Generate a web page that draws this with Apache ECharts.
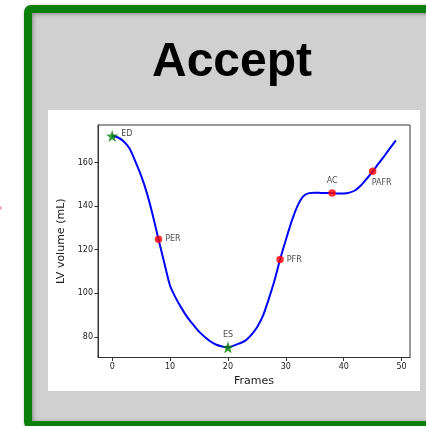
<!DOCTYPE html>
<html>
<head>
<meta charset="utf-8">
<script src="https://cdn.jsdelivr.net/npm/echarts@6/dist/echarts.min.js"></script>
<style>
html,body{margin:0;padding:0;background:#fff;}
#c{width:426px;height:426px;}
</style>
</head>
<body>
<div id="c"></div>
<script>
// ---- data ----
var frames = [];
for (var i = 0; i < 50; i++) frames.push(i);
var volumes = [172.2, 171.5, 169.7, 166.5, 160.6, 154.0, 146.0, 136.0, 124.8, 114.0,
               103.5, 97.8, 93.1, 89.0, 85.6, 82.4, 80.0, 77.9, 76.4, 75.6,
               75.2, 76.0, 77.0, 78.3, 80.8, 84.3, 89.4, 97.0, 105.5, 115.5,
               124.5, 133.0, 140.0, 144.5, 146.0, 146.2, 146.1, 146.0, 146.0, 145.8,
               145.8, 146.2, 147.3, 149.6, 152.7, 156.0, 159.5, 163.0, 166.6, 170.2];
var starEvents = ['ED', 'ES'];
var starFrames = [0, 20];
var dotEvents = ['PER', 'PFR', 'AC', 'PAFR'];
var dotFrames = [8, 29, 38, 45];
var xTicks = [0, 10, 20, 30, 40, 50];
var yTicks = [80, 100, 120, 140, 160];
var titleText = 'Accept';
var xName = 'Frames';
var yName = 'LV volume (mL)';

// ---- styles ----
var labelPos = {
  ED: {position: 'right', distance: 3, offset: [0, -2]},
  ES: {position: 'top', distance: 2},
  PER: {position: 'right', distance: 3},
  PFR: {position: 'right', distance: 3},
  AC: {position: 'top', distance: 4},
  PAFR: {position: 'bottom', distance: 4, offset: [9, 0]}
};
var starPath = 'path://M0,-10 L2.35,-3.24 L9.51,-3.09 L3.80,1.24 L5.88,8.09 L0,4 L-5.88,8.09 L-3.80,1.24 L-9.51,-3.09 L-2.35,-3.24 Z';
var font = 'DejaVu Sans';
var textColor = '#1a1a1a';

function pts(names, fr) {
  return names.map(function (n, k) {
    var lp = labelPos[n];
    return {
      value: [fr[k], volumes[fr[k]]],
      name: n,
      label: {show: true, formatter: n, position: lp.position, distance: lp.distance,
               offset: lp.offset || [0, 0], fontFamily: font, fontSize: 8, color: textColor}
    };
  });
}

var chart = echarts.init(document.getElementById('c'), null, {renderer: 'canvas'});
chart.setOption({
  animation: false,
  backgroundColor: '#ffffff',
  graphic: [
    {type: 'circle', shape: {cx: 0, cy: 208, r: 2}, style: {fill: '#f7a6b5'}, z: 0},
    {type: 'rect', shape: {x: 28, y: 9, width: 420, height: 416, r: 3},
     style: {fill: '#d0d0d0', stroke: '#0a800a', lineWidth: 8,
             shadowBlur: 4, shadowColor: 'rgba(0,0,0,0.35)', shadowOffsetX: 1, shadowOffsetY: 1}, z: 0},
    {type: 'rect', shape: {x: 48, y: 110, width: 372, height: 281},
     style: {fill: '#ffffff'}, z: 1},
    {type: 'text', x: 232, y: 63, z: 2,
     style: {text: titleText, fontFamily: 'Liberation Sans', fontWeight: 'bold', fontSize: 48,
             fill: '#000', align: 'center', verticalAlign: 'middle'}}
  ],
  grid: {left: 98, top: 125, width: 312, height: 232.5, show: true,
         borderColor: '#333', borderWidth: 1, backgroundColor: 'transparent', containLabel: false, z: 3},
  xAxis: {
    type: 'value', min: -2.45, max: 51.45, z: 10,
    name: xName, nameLocation: 'middle', nameGap: 13,
    nameTextStyle: {fontFamily: font, fontSize: 11, color: textColor},
    axisLine: {show: true, onZero: false, lineStyle: {color: '#333', width: 1}},
    axisTick: {show: true, length: 3.5, customValues: xTicks, lineStyle: {color: '#333'}},
    axisLabel: {customValues: xTicks, fontFamily: font, fontSize: 8, color: textColor, margin: 5},
    splitLine: {show: false}
  },
  yAxis: {
    type: 'value', min: 70.55, max: 177.25, z: 10,
    name: yName, nameLocation: 'middle', nameGap: 21,
    nameTextStyle: {fontFamily: font, fontSize: 11, color: textColor},
    axisLine: {show: true, onZero: false, lineStyle: {color: '#333', width: 1}},
    axisTick: {show: true, length: 3.5, customValues: yTicks, lineStyle: {color: '#333'}},
    axisLabel: {customValues: yTicks, fontFamily: font, fontSize: 8, color: textColor, margin: 5},
    splitLine: {show: false}
  },
  series: [
    {type: 'line', data: frames.map(function (f, k) { return [f, volumes[k]]; }),
     showSymbol: false, smooth: 0.25, lineStyle: {color: '#0000ff', width: 2}, z: 4},
    {type: 'scatter', data: pts(dotEvents, dotFrames), symbol: 'circle', symbolSize: 7.5,
     itemStyle: {color: '#ff0000'}, z: 5},
    {type: 'scatter', data: pts(starEvents, starFrames), symbol: starPath, symbolSize: 12,
     itemStyle: {color: '#008000'}, z: 5}
  ]
});
</script>
</body>
</html>
